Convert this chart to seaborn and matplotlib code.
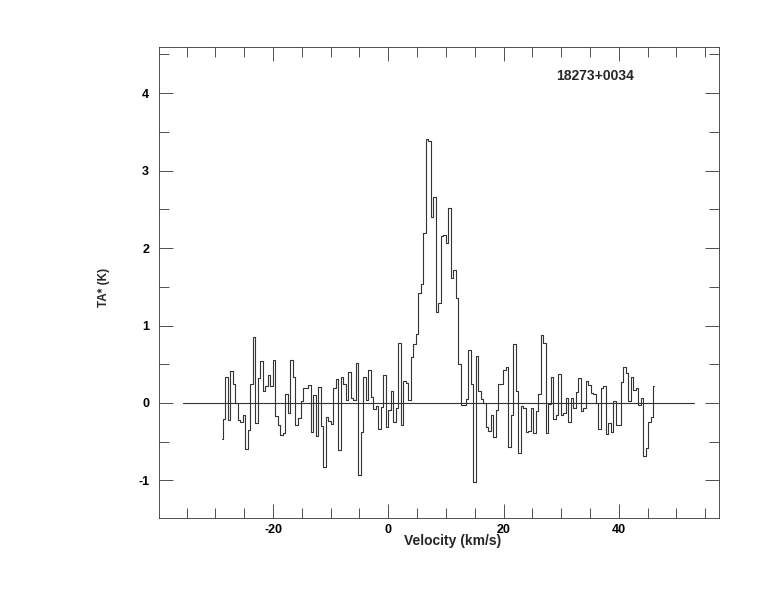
import numpy as np
import pandas as pd
import seaborn as sns
import matplotlib
matplotlib.use("Agg")
import matplotlib.pyplot as plt
from matplotlib.ticker import MultipleLocator

# spectrum: first channel velocity, channel width, antenna temperatures
v_start = -28.91
dv = 0.434
ta = [
    -0.46, -0.21, 0.33, -0.22, 0.41, 0.25, 0.00, -0.22, -0.24, -0.15,
    -0.59, -0.35, 0.25, 0.85, -0.26, 0.32, 0.54, 0.16, 0.22, 0.36,
    0.22, 0.55, -0.17, -0.29, -0.41, -0.39, 0.11, -0.13, 0.56, 0.33,
    -0.28, -0.20, 0.03, 0.19, 0.20, 0.23, -0.38, 0.10, -0.43, 0.21,
    -0.30, -0.82, -0.18, -0.23, -0.27, 0.19, 0.31, -0.61, 0.34, 0.24,
    0.04, 0.40, 0.06, 0.04, 0.51, -0.93, -0.37, 0.33, 0.04, 0.43,
    0.08, -0.08, -0.04, -0.34, -0.05, 0.36, -0.31, -0.09, 0.15, -0.24,
    -0.06, 0.77, -0.28, 0.28, 0.26, 0.04, 0.59, 0.76, 0.89, 1.42,
    1.54, 2.19, 3.41, 3.38, 2.40, 2.66, 1.18, 1.29, 2.15, 2.17,
    2.06, 2.52, 1.61, 1.72, 1.35, 0.50, -0.03, -0.03, 0.05, 0.69,
    0.24, -1.02, 0.61, 0.15, 0.05, 0.00, -0.31, -0.36, -0.15, -0.44,
    -0.09, 0.24, 0.25, 0.43, 0.46, -0.57, -0.16, 0.76, 0.15, -0.64,
    -0.04, -0.07, -0.38, -0.36, -0.07, -0.39, -0.10, 0.12, 0.88, 0.77,
    -0.39, -0.01, 0.33, -0.21, -0.16, 0.37, -0.15, -0.13, 0.06, -0.25,
    0.07, -0.07, 0.14, 0.32, -0.10, -0.06, 0.28, 0.23, 0.13, 0.12,
    0.00, -0.34, 0.20, 0.22, -0.40, -0.26, -0.38, 0.03, -0.28, -0.28,
    0.27, 0.47, 0.39, 0.02, 0.33, 0.17, 0.20, -0.03, 0.07, -0.69,
    -0.58, -0.25, -0.18, 0.22,
]
velocity = v_start + dv * np.arange(len(ta))
baseline_range = [-35.6, 53.1]
source = "18273+0034"

df = pd.DataFrame({"Velocity": velocity, "TA": ta})

sns.set_style("ticks")
plt.rcParams["font.family"] = ["Liberation Sans", "DejaVu Sans"]
plt.rcParams["font.weight"] = "bold"
plt.rcParams["axes.unicode_minus"] = False

fig = plt.figure(figsize=(7.74, 6.12), dpi=100)
ax = fig.add_axes([0.2054, 0.1536, 0.7236, 0.7696])

sns.lineplot(data=df, x="Velocity", y="TA", ax=ax, estimator=None,
             drawstyle="steps-mid", color="#333333", linewidth=0.8)
ax.plot(baseline_range, [0, 0], color="#333333", linewidth=0.8)

ax.set_xlim(-39.8, 57.4)
ax.set_ylim(-1.484, 4.594)

ax.xaxis.set_major_locator(MultipleLocator(20))
ax.xaxis.set_minor_locator(MultipleLocator(5))
ax.yaxis.set_major_locator(MultipleLocator(1))
ax.yaxis.set_minor_locator(MultipleLocator(0.5))
ax.tick_params(which="both", direction="in", top=True, right=True,
               width=0.6, colors="#333333", labelcolor="black", labelsize=9)
ax.tick_params(which="major", length=10, pad=4)
ax.tick_params(which="minor", length=7)
ax.tick_params(axis="y", which="major", pad=7)
for lab in ax.get_xticklabels() + ax.get_yticklabels():
    lab.set_fontweight("bold")

for s in ax.spines.values():
    s.set_linewidth(0.6)
    s.set_color("#333333")

ax.set_xlabel("Velocity (km/s)", fontsize=10, fontweight="bold")
ax.set_ylabel("TA* (K)", fontsize=8.5, fontweight="bold")
ax.xaxis.set_label_coords(0.524, -0.033)
ax.yaxis.set_label_coords(-0.088, 0.49)
ax.text(0.779, 0.938, source, transform=ax.transAxes, ha="center",
        va="center", fontsize=10, fontweight="bold")

fig.savefig("out.png", dpi=100)
